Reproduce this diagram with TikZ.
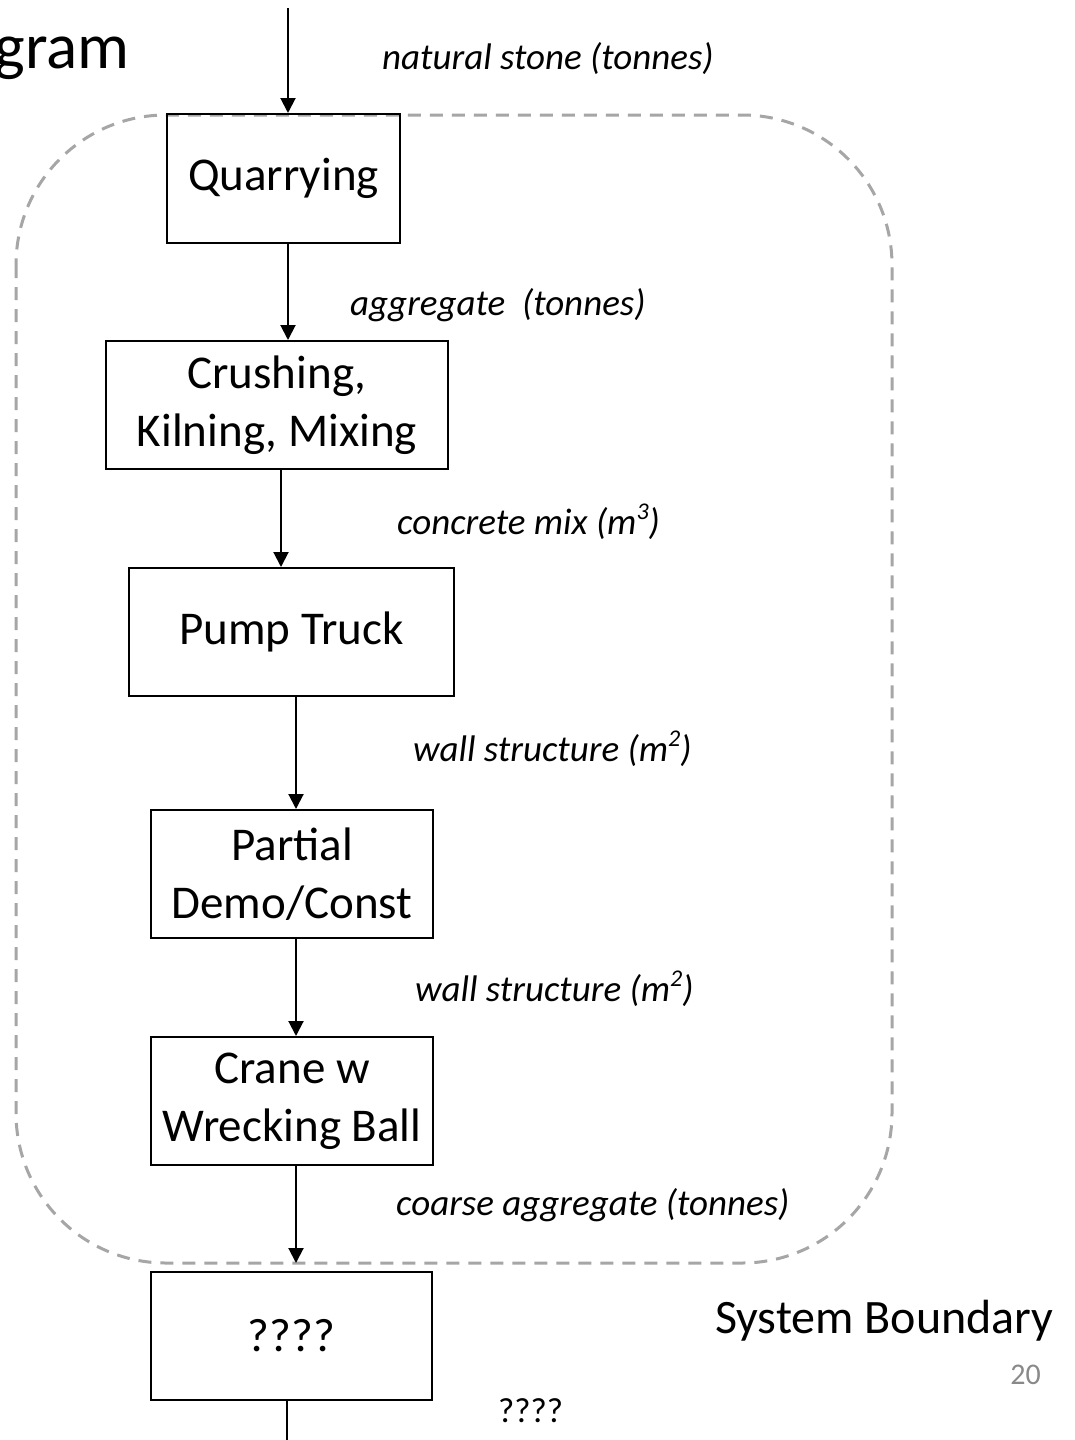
\documentclass[tikz,border=0pt]{standalone}
\usepackage{fontspec}
\setmainfont{Carlito}
\usetikzlibrary{arrows.meta}
\definecolor{bgray}{HTML}{A6A6A6}
\definecolor{numgray}{HTML}{898989}
% raised unit exponent
\newcommand\unitexp[1]{\raisebox{0.38em}{\fontsize{24}{24}\selectfont #1}}

\begin{document}
\begin{tikzpicture}[x=1pt,y=-1pt,
  proc/.style={draw=black,line width=2pt,inner sep=0pt,align=center,
    font=\fontsize{47}{58}\selectfont},
  flow/.style={line width=2pt,-{Triangle[width=15pt,length=15pt]}},
  plain/.style={line width=2pt},
  lbl/.style={anchor=base west,inner sep=0pt,font=\fontsize{37}{44}\selectfont\itshape},
  boundary/.style={draw=bgray,line width=3pt,dash pattern=on 13pt off 9pt,rounded corners=150pt}]

\useasboundingbox[fill=white] (0,0) rectangle (1074,1440);

% system boundary
\draw[boundary] (16,115) rectangle (892,1263);

% title fragment
\node[anchor=base east,inner sep=0pt,font=\fontsize{65}{70}\selectfont] (title) at (130,68) {gram};

% process boxes
\node[proc,minimum width=233pt,minimum height=129pt] (quar)    at (283.5,178.5) {Quarrying};
\node[proc,minimum width=342pt,minimum height=128pt] (crush)   at (277,405)   {Crushing,\\Kilning, Mixing};
\node[proc,minimum width=325pt,minimum height=128pt] (pump)    at (291.5,632) {Pump Truck};
\node[proc,minimum width=282pt,minimum height=128pt] (partial) at (292,874)   {Partial\\Demo/Const};
\node[proc,minimum width=282pt,minimum height=128pt] (crane)   at (292,1101)  {Crane w\\Wrecking Ball};
\node[proc,minimum width=281pt,minimum height=128pt] (unk)     at (291.5,1336) {????};

% connector columns
\coordinate (in)  at (288,8);
\coordinate (c1)  at (288,0);
\coordinate (c2)  at (281,0);
\coordinate (c3)  at (296,0);
\coordinate (c4)  at (296,0);
\coordinate (cb)  at (296,1263);
\coordinate (out) at (287,1440);

% flows
\draw[flow] (in) -- (quar.north -| in);
\draw[flow] (quar.south -| c1) -- (crush.north -| c1);
\draw[flow] (crush.south -| c2) -- (pump.north -| c2);
\draw[flow] (pump.south -| c3) -- (partial.north -| c3);
\draw[flow] (partial.south -| c4) -- (crane.north -| c4);
\draw[flow] (crane.south -| cb) -- (cb);
\draw[plain] (unk.south -| out) -- (out);

% flow labels
\node[lbl] (l0) at (382,69)   {natural stone (tonnes)};
\node[lbl] (l1) at (350,315)  {aggregate~~(tonnes)};
\node[lbl] (l2) at (397,534)  {concrete mix (m\unitexp{3})};
\node[lbl] (l3) at (413,761)  {wall structure (m\unitexp{2})};
\node[lbl] (l4) at (415,1001) {wall structure (m\unitexp{2})};
\node[lbl] (l5) at (396,1215) {coarse aggregate (tonnes)};
\node[anchor=base west,inner sep=0pt,font=\fontsize{35}{42}\selectfont] (l6) at (498,1422) {????};

% boundary caption and page number
\node[anchor=base west,inner sep=0pt,font=\fontsize{48}{56}\selectfont] (sb) at (715,1333) {System Boundary};
\node[anchor=base east,inner sep=0pt,text=numgray,font=\fontsize{30}{36}\selectfont] (pg) at (1041,1384) {20};
\end{tikzpicture}
\end{document}
